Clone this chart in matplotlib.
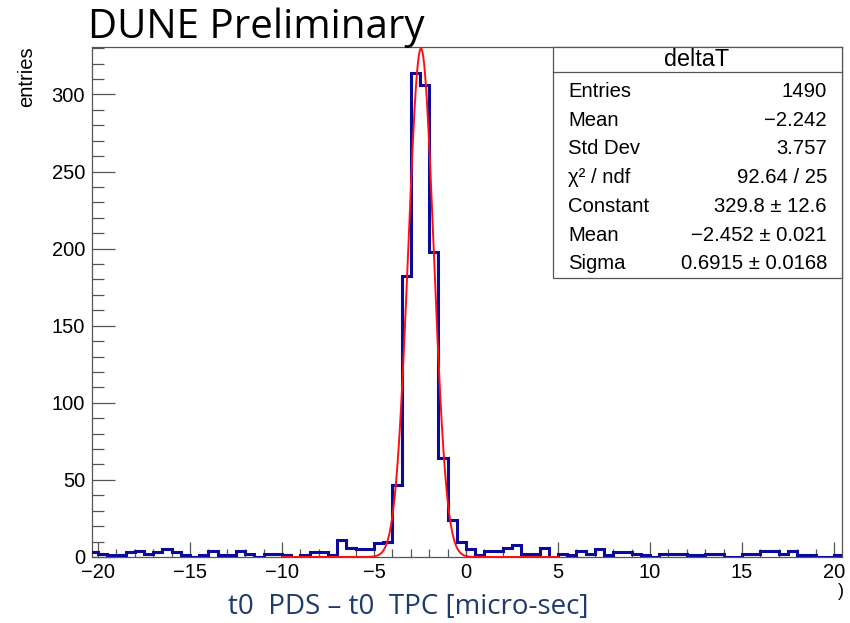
import numpy as np
from matplotlib import pyplot as plt
from matplotlib.patches import Rectangle
from matplotlib.ticker import MultipleLocator

# deltaT histogram, 0.5 us bins from -20.5 to 20.5
bin_lo = -20.5
bin_hi = 20.5
bin_width = 0.5
counts = [3,
          2, 1, 1, 3, 4, 2, 3, 5, 3, 1,
          0, 1, 4, 1, 1, 4, 2, 0, 2, 2,
          1, 0, 1, 3, 3, 1, 11, 6, 5, 5,
          9, 10, 47, 182, 314, 306, 198, 64, 24, 10,
          5, 1, 4, 4, 6, 8, 2, 2, 6, 0,
          2, 1, 4, 2, 5, 1, 3, 3, 2, 1,
          0, 2, 2, 2, 1, 1, 2, 2, 0, 0,
          2, 2, 4, 4, 2, 4, 1, 1, 0, 0,
          1]

# gaussian fit result and fit range
fit_const = 329.8
fit_mean = -2.452
fit_sigma = 0.6915
fit_range = [-10, 5]

stats_names = ['Entries', 'Mean', 'Std Dev', 'χ² / ndf', 'Constant', 'Mean', 'Sigma']
stats_values = ['1490', '−2.242', '3.757', '92.64 / 25', '329.8 ± 12.6',
                '−2.452 ± 0.021', '0.6915 ± 0.0168']

W, H = 850, 623
plt.rc('font', family=['Liberation Sans', 'DejaVu Sans'])
fig = plt.figure(figsize=(W / 100, H / 100), dpi=100)


def fx(x):
    return x / W


def fy(y):
    return 1 - y / H


ax = fig.add_axes([fx(92), fy(557), fx(842) - fx(92), fy(46.7) - fy(557)])

edges = np.arange(bin_lo, bin_hi + bin_width / 2, bin_width)
ax.stairs(counts, edges, baseline=None, color='#0a0a9c', linewidth=2.2, zorder=3)

xf = np.linspace(fit_range[0], fit_range[1], 1000)
yf = fit_const * np.exp(-0.5 * ((xf - fit_mean) / fit_sigma) ** 2)
ax.plot(xf, yf, color='#ff1010', linewidth=1.4, zorder=4)

ax.set_xlim(-20.33, 20.43)
ax.set_ylim(0, 331)

# ROOT-like axes: ticks inside, only on left and bottom
ax.xaxis.set_major_locator(MultipleLocator(5))
ax.xaxis.set_minor_locator(MultipleLocator(1))
ax.yaxis.set_major_locator(MultipleLocator(50))
ax.yaxis.set_minor_locator(MultipleLocator(10))
ax.tick_params(axis='x', which='major', direction='in', length=11, width=0.9,
               color='#555555', labelsize=14.5, pad=4)
ax.tick_params(axis='x', which='minor', direction='in', length=5.5, width=0.9,
               color='#555555')
ax.tick_params(axis='y', which='major', direction='in', length=16.5, width=0.9,
               color='#555555', labelsize=14.5, pad=5)
ax.tick_params(axis='y', which='minor', direction='in', length=8.3, width=0.9,
               color='#555555')
for s in ax.spines.values():
    s.set_color('#555555')
    s.set_linewidth(0.9)

fig.text(fx(26.7), fy(46.7), 'entries', rotation=90, ha='center', va='top',
         fontsize=14.5)
fig.text(fx(841), fy(592), ')', ha='center', va='center', fontsize=13)

fig.text(fx(88), fy(38.3), 'DUNE Preliminary', family=['Open Sans', 'DejaVu Sans'],
         fontsize=29, ha='left', va='baseline')
fig.text(fx(408.5), fy(607), 't0  PDS – t0  TPC [micro-sec]',
         family=['Open Sans', 'DejaVu Sans'], fontsize=20, color='#1f3a6e',
         ha='center', va='center')

# stats box
box = Rectangle((fx(553), fy(278)), fx(842) - fx(553), fy(46.7) - fy(278),
                transform=fig.transFigure, facecolor='white',
                edgecolor='#555555', linewidth=0.9, zorder=10)
fig.add_artist(box)
fig.add_artist(plt.Line2D([fx(553), fx(842)], [fy(72), fy(72)],
                          transform=fig.transFigure, color='#555555',
                          linewidth=0.9, zorder=11))
fig.text(fx(697), fy(60), 'deltaT', ha='center', va='center', fontsize=16.8,
         zorder=12)
row_y = [91.7, 120.5, 149, 177.5, 206.5, 235.5, 263]
for name, val, y in zip(stats_names, stats_values, row_y):
    fig.text(fx(568), fy(y), name, ha='left', va='center', fontsize=14.6,
             zorder=12)
    fig.text(fx(827), fy(y), val, ha='right', va='center', fontsize=14.6,
             zorder=12)

fig.savefig('out.png', dpi=100)
